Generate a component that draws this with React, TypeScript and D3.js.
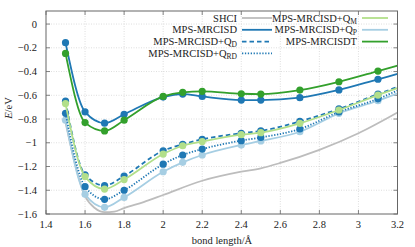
import React, { useRef, useEffect } from 'react';
import * as d3 from 'd3';

// bond lengths where the MPS calculations were done
const bondX = [1.5, 1.6, 1.7, 1.8, 2.0, 2.1, 2.2, 2.4, 2.5, 2.7, 2.9, 3.1];
const mrcisd = [-0.157, -0.74, -0.835, -0.76, -0.615, -0.59, -0.61, -0.64, -0.64, -0.62, -0.555, -0.465];
const mrcisdt = [-0.247, -0.83, -0.9, -0.81, -0.61, -0.575, -0.567, -0.587, -0.59, -0.556, -0.486, -0.396];
const qD = [-0.65, -1.27, -1.36, -1.28, -1.067, -1.013, -0.971, -0.92, -0.9, -0.82, -0.715, -0.59];
const qM = [-0.67, -1.285, -1.39, -1.31, -1.095, -1.025, -0.99, -0.932, -0.915, -0.836, -0.724, -0.598];
const qRD = [-0.752, -1.37, -1.476, -1.4, -1.18, -1.103, -1.053, -0.982, -0.955, -0.884, -0.74, -0.63];
const qP = [-0.81, -1.434, -1.544, -1.46, -1.244, -1.165, -1.103, -1.019, -0.985, -0.907, -0.752, -0.646];

// curve values at the right edge (3.2 Å), lines run on past the last marker
const endX = 3.2;
const endMrcisd = -0.42;
const endMrcisdt = -0.35;
const endQD = -0.53;
const endQM = -0.54;
const endQRD = -0.56;
const endQP = -0.584;

// SHCI reference curve (line only)
const shciX = [1.5, 1.6, 1.65, 1.7, 1.75, 1.8, 1.9, 2.0, 2.2, 2.4, 2.5, 2.6, 2.8, 3.0, 3.2];
const shciY = [-0.83, -1.45, -1.55, -1.585, -1.58, -1.55, -1.5, -1.44, -1.32, -1.244, -1.215, -1.17, -1.06, -0.92, -0.745];

const xTicks = [1.4, 1.6, 1.8, 2.0, 2.2, 2.4, 2.6, 2.8, 3.0, 3.2];
const yTicks = [0, -0.2, -0.4, -0.6, -0.8, -1, -1.2, -1.4, -1.6];

type Series = {
    name: string;
    sub?: string;
    color: string;
    dash?: string;
    ys: number[];
    end: number;
};

const seriesList: Series[] = [
    { name: 'MPS-MRCISD', color: '#1f78b4', ys: mrcisd, end: endMrcisd },
    { name: 'MPS-MRCISDT', color: '#33a02c', ys: mrcisdt, end: endMrcisdt },
    { name: 'MPS-MRCISD+Q', sub: 'P', color: '#a6cee3', ys: qP, end: endQP },
    { name: 'MPS-MRCISD+Q', sub: 'RD', color: '#1f78b4', dash: '1.3,1.6', ys: qRD, end: endQRD },
    { name: 'MPS-MRCISD+Q', sub: 'D', color: '#1f78b4', dash: '4.5,3', ys: qD, end: endQD },
    { name: 'MPS-MRCISD+Q', sub: 'M', color: '#b2df8a', ys: qM, end: endQM },
];

const W = 415;
const H = 247;
const plot = { left: 46, right: 397.5, top: 11, bottom: 214 };
const FONT = '"Liberation Serif", "DejaVu Serif", serif';

function PesChart() {
    const svgRef = useRef<SVGSVGElement>(null);

    useEffect(() => {
        if (!svgRef.current) return;
        const svg = d3.select(svgRef.current);
        svg.selectAll('*').remove();

        const x = d3.scaleLinear().domain([1.4, 3.2]).range([plot.left, plot.right]);
        const y = d3.scaleLinear().domain([-1.6, 0.11]).range([plot.bottom, plot.top]);

        svg.append('defs').append('clipPath').attr('id', 'plotclip')
            .append('rect')
            .attr('x', plot.left).attr('y', plot.top)
            .attr('width', plot.right - plot.left).attr('height', plot.bottom - plot.top);

        // grid
        const grid = svg.append('g').attr('stroke', '#c8c8c8').attr('stroke-width', 0.6).attr('stroke-dasharray', '1,1.5');
        xTicks.slice(1, -1).forEach(t => {
            grid.append('line').attr('x1', x(t)).attr('x2', x(t)).attr('y1', plot.top).attr('y2', plot.bottom);
        });
        yTicks.slice(0, -1).forEach(t => {
            grid.append('line').attr('x1', plot.left).attr('x2', plot.right).attr('y1', y(t)).attr('y2', y(t));
        });

        // ticks (inward, mirrored)
        const ticks = svg.append('g').attr('stroke', '#666').attr('stroke-width', 0.8);
        xTicks.forEach(t => {
            ticks.append('line').attr('x1', x(t)).attr('x2', x(t)).attr('y1', plot.bottom).attr('y2', plot.bottom - 4);
            ticks.append('line').attr('x1', x(t)).attr('x2', x(t)).attr('y1', plot.top).attr('y2', plot.top + 4);
        });
        yTicks.forEach(t => {
            ticks.append('line').attr('x1', plot.left).attr('x2', plot.left + 4).attr('y1', y(t)).attr('y2', y(t));
            ticks.append('line').attr('x1', plot.right).attr('x2', plot.right - 4).attr('y1', y(t)).attr('y2', y(t));
        });

        // tick labels
        const fmt = (v: number) => String(+v.toFixed(1)).replace('-', '\u2212');
        svg.append('g').selectAll('text').data(xTicks).enter().append('text')
            .attr('x', d => x(d)).attr('y', 228)
            .attr('text-anchor', 'middle')
            .attr('font-family', FONT).attr('font-size', 10.5).attr('fill', '#222')
            .text(d => fmt(d));
        svg.append('g').selectAll('text').data(yTicks).enter().append('text')
            .attr('x', 37).attr('y', d => y(d) + 3.5)
            .attr('text-anchor', 'end')
            .attr('font-family', FONT).attr('font-size', 10.5).attr('fill', '#222')
            .text(d => fmt(d));

        // axis labels
        svg.append('text')
            .attr('x', 222).attr('y', 244)
            .attr('text-anchor', 'middle')
            .attr('font-family', FONT).attr('font-size', 10.5).attr('fill', '#222')
            .text('bond length/\u00c5');
        const yl = svg.append('text')
            .attr('transform', `translate(12,108) rotate(-90)`)
            .attr('text-anchor', 'middle')
            .attr('font-family', FONT).attr('font-size', 10.5).attr('fill', '#222');
        yl.append('tspan').attr('font-style', 'italic').text('E');
        yl.append('tspan').text('/eV');

        const lines = svg.append('g').attr('clip-path', 'url(#plotclip)');

        const line = d3.line<[number, number]>()
            .x(d => x(d[0]))
            .y(d => y(d[1]))
            .curve(d3.curveMonotoneX);

        // SHCI
        lines.append('path')
            .datum(shciX.map((v, i) => [v, shciY[i]] as [number, number]))
            .attr('fill', 'none')
            .attr('stroke', '#bdbdbd')
            .attr('stroke-width', 1.8)
            .attr('d', line);

        seriesList.forEach(s => {
            const pts = bondX.map((v, i) => [v, s.ys[i]] as [number, number]);
            const g = lines.append('g');
            g.append('path')
                .datum([...pts, [endX, s.end] as [number, number]])
                .attr('fill', 'none')
                .attr('stroke', s.color)
                .attr('stroke-width', 1.8)
                .attr('stroke-dasharray', s.dash || null)
                .attr('d', line);
            g.selectAll('circle').data(pts).enter().append('circle')
                .attr('cx', d => x(d[0]))
                .attr('cy', d => y(d[1]))
                .attr('r', 3.6)
                .attr('fill', s.color);
        });

        // frame
        svg.append('rect')
            .attr('x', plot.left).attr('y', plot.top)
            .attr('width', plot.right - plot.left).attr('height', plot.bottom - plot.top)
            .attr('fill', 'none').attr('stroke', '#666').attr('stroke-width', 1);

        // legend, two columns
        const legendItems = [
            { name: 'SHCI', color: '#bdbdbd' },
            { name: 'MPS-MRCISD', color: '#1f78b4' },
            { name: 'MPS-MRCISD+Q', sub: 'D', color: '#1f78b4', dash: '4.5,3' },
            { name: 'MPS-MRCISD+Q', sub: 'RD', color: '#1f78b4', dash: '1.3,1.6' },
            { name: 'MPS-MRCISD+Q', sub: 'M', color: '#b2df8a' },
            { name: 'MPS-MRCISD+Q', sub: 'P', color: '#a6cee3' },
            { name: 'MPS-MRCISDT', color: '#33a02c' },
        ];
        const cols = [
            { textRight: 237, sx0: 242, sx1: 272 },
            { textRight: 357, sx0: 362, sx1: 388 },
        ];
        const leg = svg.append('g');
        legendItems.forEach((it, i) => {
            const col = i < 4 ? cols[0] : cols[1];
            const row = i < 4 ? i : i - 4;
            const cy = 18 + row * 11.8;
            const t = leg.append('text')
                .attr('x', col.textRight).attr('y', cy + 3.5)
                .attr('text-anchor', 'end')
                .attr('font-family', FONT).attr('font-size', 10.5).attr('fill', '#222');
            t.append('tspan').text(it.name);
            if (it.sub) {
                t.append('tspan').attr('font-size', 7.5).attr('dy', 2).text(it.sub);
            }
            leg.append('line')
                .attr('x1', col.sx0).attr('x2', col.sx1)
                .attr('y1', cy).attr('y2', cy)
                .attr('stroke', it.color).attr('stroke-width', 1.8)
                .attr('stroke-dasharray', it.dash || null);
        });
    }, []);

    return <svg ref={svgRef} width={W} height={H} style={{ position: 'absolute', left: 0, top: 0, background: '#fff' }} />;
}

export default function App() {
    return <PesChart />;
}
